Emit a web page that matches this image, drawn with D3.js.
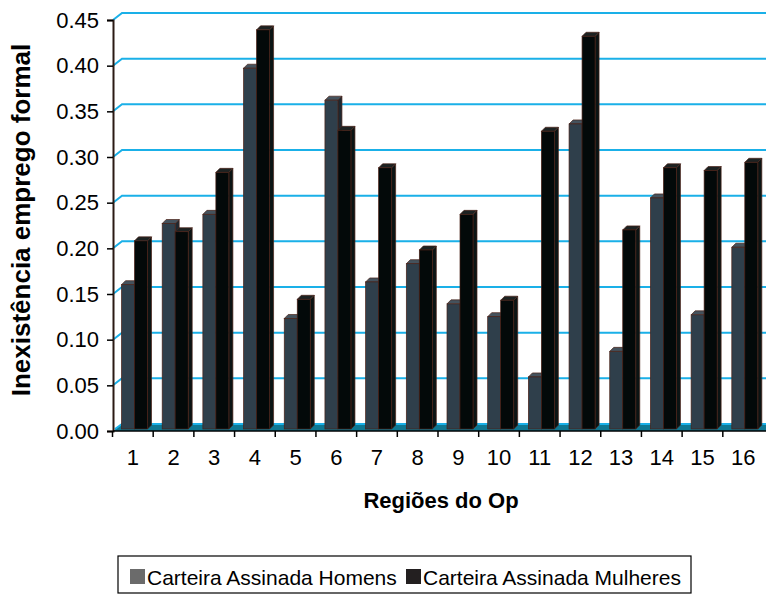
<!DOCTYPE html>
<html>
<head>
<meta charset="utf-8">
<script src="https://cdn.jsdelivr.net/npm/d3@7"></script>
<style>
  body { margin: 0; background: #fff; }
  text { font-family: "Liberation Sans", Arial, sans-serif; }
</style>
</head>
<body>
<svg></svg>
<script>
const categories = ["1", "2", "3", "4", "5", "6", "7", "8", "9", "10", "11", "12", "13", "14", "15", "16"];
const homens = [0.158, 0.225, 0.235, 0.395, 0.121, 0.36, 0.161, 0.181, 0.137, 0.123, 0.057, 0.334, 0.085, 0.253, 0.125, 0.199];
const mulheres = [0.206, 0.216, 0.281, 0.437, 0.142, 0.327, 0.286, 0.196, 0.235, 0.141, 0.326, 0.43, 0.218, 0.286, 0.283, 0.292];
const yTicks = [0, 0.05, 0.1, 0.15, 0.2, 0.25, 0.3, 0.35, 0.4, 0.45];
const seriesNames = ["Carteira Assinada Homens", "Carteira Assinada Mulheres"];

const sizes = {
  width: 766,
  height: 594,
  left: 113,
  right: 766,
  floor: 431,
  top: 20,
  depth: { dx: 9, dy: 7 },
  bar: { dx: 4, dy: 4 }
};

const svg = d3.select("svg")
  .attr("width", sizes.width)
  .attr("height", sizes.height);

// front scale (axis ticks)
const y = d3.scaleLinear().domain([0, 0.45]).range([sizes.floor, sizes.top]);
// bars sit a little behind the front plane
const yBar = d3.scaleLinear().domain([0, 0.45]).range([sizes.floor - 2, sizes.top - 2]);

const x = d3.scaleBand().domain(categories).range([112.5, 763.5]);
const xInner = d3.scaleBand().domain(["h", "m"]).range([9, 35]);

// gridlines on the back wall
const gridLine = d => {
  const yf = y(d);
  return `M${sizes.left},${yf} L${sizes.left + sizes.depth.dx},${yf - sizes.depth.dy} L${sizes.right},${yf - sizes.depth.dy}`;
};

svg.append("g")
  .selectAll("path")
  .data(yTicks.filter(d => d > 0))
  .enter()
  .append("path")
  .attr("d", gridLine)
  .attr("fill", "none")
  .attr("stroke", "#1ab0e8")
  .attr("stroke-width", 2);

// floor
svg.append("path")
  .attr("d", `M${sizes.left},${y(0)} L${sizes.left + sizes.depth.dx},${y(0) - sizes.depth.dy} L${sizes.right},${y(0) - sizes.depth.dy} L${sizes.right},${y(0)} Z`)
  .attr("fill", "#0f7893");
svg.append("path")
  .attr("d", `M${sizes.left + 2},${y(0) - 2} L${sizes.left + sizes.depth.dx},${y(0) - sizes.depth.dy} L${sizes.right},${y(0) - sizes.depth.dy}`)
  .attr("fill", "none")
  .attr("stroke", "#1ab0e8")
  .attr("stroke-width", 2);

// bars
const barData = [];
categories.forEach((c, i) => {
  barData.push({ cat: c, key: "h", value: homens[i] });
  barData.push({ cat: c, key: "m", value: mulheres[i] });
});

const colors = {
  h: { front: "#2f3f4b", top: "#44525d", side: "#1e2830" },
  m: { front: "#030909", top: "#1c2222", side: "#0b1414" }
};

const bars = svg.append("g")
  .selectAll("g")
  .data(barData)
  .enter()
  .append("g");

const bx = d => x(d.cat) + xInner(d.key);
const bw = xInner.bandwidth();
const b0 = yBar(0);

bars.append("path")
  .attr("d", d => {
    const x0 = bx(d) + bw, yt = yBar(d.value);
    return `M${x0},${b0} L${x0},${yt} L${x0 + sizes.bar.dx},${yt - sizes.bar.dy} L${x0 + sizes.bar.dx},${b0 - sizes.bar.dy} Z`;
  })
  .attr("fill", d => colors[d.key].side)
  .attr("stroke", "#4a2218")
  .attr("stroke-width", 0.7);

bars.append("path")
  .attr("d", d => {
    const x0 = bx(d), yt = yBar(d.value);
    return `M${x0},${yt} L${x0 + sizes.bar.dx},${yt - sizes.bar.dy} L${x0 + bw + sizes.bar.dx},${yt - sizes.bar.dy} L${x0 + bw},${yt} Z`;
  })
  .attr("fill", d => colors[d.key].top)
  .attr("stroke", "#4a2218")
  .attr("stroke-width", 0.7);

bars.append("rect")
  .attr("x", bx)
  .attr("y", d => yBar(d.value))
  .attr("width", bw)
  .attr("height", d => b0 - yBar(d.value))
  .attr("fill", d => colors[d.key].front)
  .attr("stroke", "#4a2218")
  .attr("stroke-width", 0.7);

// y axis
const yAxis = svg.append("g")
  .attr("transform", `translate(${sizes.left},0)`)
  .call(d3.axisLeft(y).tickValues(yTicks).tickFormat(d3.format(".2f")).tickSize(6).tickPadding(8));
yAxis.select(".domain").attr("stroke", "#2b1a14").attr("stroke-width", 2);
yAxis.selectAll(".tick line").attr("stroke", "#000").attr("stroke-width", 1.5);
yAxis.selectAll("text").attr("font-size", 22).attr("fill", "#000");

// x axis
const xAxis = svg.append("g")
  .attr("transform", `translate(0,${y(0)})`)
  .call(d3.axisBottom(x).tickSize(0).tickPadding(18));
xAxis.select(".domain").remove();
xAxis.selectAll("text").attr("font-size", 22).attr("fill", "#000");

svg.append("line")
  .attr("x1", sizes.left).attr("x2", sizes.right)
  .attr("y1", y(0)).attr("y2", y(0))
  .attr("stroke", "#000").attr("stroke-width", 1.5);

svg.append("g")
  .selectAll("line")
  .data(categories)
  .enter()
  .append("line")
  .attr("x1", d => x(d)).attr("x2", d => x(d))
  .attr("y1", y(0)).attr("y2", y(0) + 6)
  .attr("stroke", "#000").attr("stroke-width", 1.5);

// titles
svg.append("text")
  .text("Regiões do Op")
  .attr("x", 441)
  .attr("y", 508)
  .attr("text-anchor", "middle")
  .attr("font-size", 22)
  .attr("font-weight", "bold");

svg.append("text")
  .text("Inexistência emprego formal")
  .attr("transform", `translate(30,220) rotate(-90)`)
  .attr("text-anchor", "middle")
  .attr("font-size", 26)
  .attr("font-weight", "bold");

// legend
const legend = svg.append("g");
legend.append("rect")
  .attr("x", 118).attr("y", 556)
  .attr("width", 573).attr("height", 37)
  .attr("fill", "#fff")
  .attr("stroke", "#000")
  .attr("stroke-width", 1.2);

const legendColors = ["#6b6b6b", "#231f20"];
const legendX = [130, 406];
seriesNames.forEach((name, i) => {
  legend.append("rect")
    .attr("x", legendX[i]).attr("y", 569)
    .attr("width", 15).attr("height", 15)
    .attr("fill", legendColors[i]);
  legend.append("text")
    .text(name)
    .attr("x", legendX[i] + 17)
    .attr("y", 585)
    .attr("font-size", 21);
});
</script>
</body>
</html>
